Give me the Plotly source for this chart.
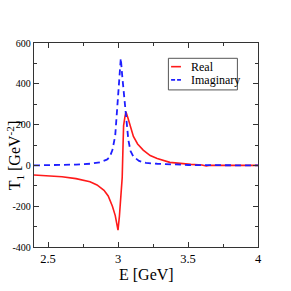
import plotly.graph_objects as go

E_real = [2.40, 2.50, 2.60, 2.70, 2.75, 2.80, 2.85, 2.90, 2.93, 2.96, 2.98, 2.99, 3.00,
          3.01, 3.02, 3.03, 3.036, 3.04, 3.05, 3.057, 3.07, 3.09, 3.11, 3.14, 3.18, 3.23,
          3.28, 3.37, 3.45, 3.52, 3.60, 3.63, 3.66, 3.75, 3.85, 4.00]
T_real = [-47, -51, -56, -65, -72, -80, -96, -122, -150, -200, -245, -278, -317,
          -250, -170, -60, 100, 195, 240, 262, 235, 185, 142, 105, 75, 48,
          34, 15, 8, 5, 2, -3, 1, 0, 0, 0]

E_imag = [2.40, 2.50, 2.60, 2.70, 2.80, 2.87, 2.92, 2.94, 2.96, 2.98, 2.99, 3.00, 3.01,
          3.02, 3.03, 3.04, 3.05, 3.06, 3.074, 3.09, 3.11, 3.15, 3.20, 3.28, 3.40,
          3.50, 3.70, 4.00]
T_imag = [0, 1, 2, 4, 8, 15, 28, 40, 75, 145, 240, 350, 450,
          525, 440, 360, 288, 210, 124, 70, 43, 22, 12, 8, 4,
          2, 1, 0]

x_ticks = [2.5, 3, 3.5, 4]
x_labels = ["2.5", "3", "3.5", "4"]
y_ticks = [-400, -200, 0, 200, 400, 600]
y_labels = ["-400", "-200", "0", "200", "400", "600"]

FONT = "Liberation Serif, Times New Roman, serif"

fig = go.Figure()
fig.add_trace(go.Scatter(x=E_real, y=T_real, mode="lines", name="Real",
                         line=dict(color="#ff1a1a", width=1.6)))
fig.add_trace(go.Scatter(x=E_imag, y=T_imag, mode="lines", name="Imaginary",
                         line=dict(color="#1f1fff", width=1.8, dash="6px,4px")))

axis_common = dict(showline=True, linecolor="#333333", linewidth=1.3, mirror="ticks",
                   ticks="inside", ticklen=5, tickcolor="#333333", tickwidth=1,
                   showgrid=False, zeroline=False, automargin=False)

fig.update_xaxes(range=[2.4, 4.0], tickvals=x_ticks, ticktext=x_labels,
                 tickfont=dict(family=FONT, size=12.5, color="black"),
                 minor=dict(ticks="inside", ticklen=3, dtick=0.25, tick0=2.5,
                            tickcolor="#333333", showgrid=False),
                 **axis_common)
fig.update_yaxes(range=[-400, 600], tickvals=y_ticks, ticktext=y_labels,
                 tickfont=dict(family=FONT, size=10, color="black"),
                 minor=dict(ticks="inside", ticklen=3, dtick=100, tick0=0,
                            tickcolor="#333333", showgrid=False),
                 **axis_common)

# axis titles
fig.add_annotation(xref="paper", yref="paper", x=0.5, y=-0.137, text="E [GeV]",
                   showarrow=False, xanchor="center", yanchor="middle",
                   font=dict(family=FONT, size=16, color="black"))
fig.add_annotation(xref="paper", yref="paper", x=-0.085, y=0.449,
                   text="T<sub>1</sub> [GeV<sup>-2</sup>]", textangle=-90,
                   showarrow=False, xanchor="center", yanchor="middle",
                   font=dict(family=FONT, size=16, color="black"))

# manual legend box
fig.add_shape(type="rect", xref="paper", yref="paper", x0=0.60, x1=0.908, y0=0.77, y1=0.925,
              line=dict(color="#555555", width=1), fillcolor="white")
fig.add_shape(type="line", xref="paper", yref="paper", x0=0.612, x1=0.656, y0=0.884, y1=0.884,
              line=dict(color="#ff1a1a", width=1.6))
fig.add_shape(type="line", xref="paper", yref="paper", x0=0.612, x1=0.656, y0=0.819, y1=0.819,
              line=dict(color="#1f1fff", width=1.8, dash="4px,2px"))
fig.add_annotation(xref="paper", yref="paper", x=0.693, y=0.884, text="Real", showarrow=False,
                   xanchor="left", yanchor="middle", font=dict(family=FONT, size=12, color="black"))
fig.add_annotation(xref="paper", yref="paper", x=0.693, y=0.819, text="Imaginary", showarrow=False,
                   xanchor="left", yanchor="middle", font=dict(family=FONT, size=12, color="black"))

fig.update_layout(width=291, height=291, margin=dict(l=34, r=33, t=43, b=44),
                  paper_bgcolor="white", plot_bgcolor="white", showlegend=False)

fig.write_html("out.html", config={"displayModeBar": False},
               post_script="document.body.style.margin='0';")
